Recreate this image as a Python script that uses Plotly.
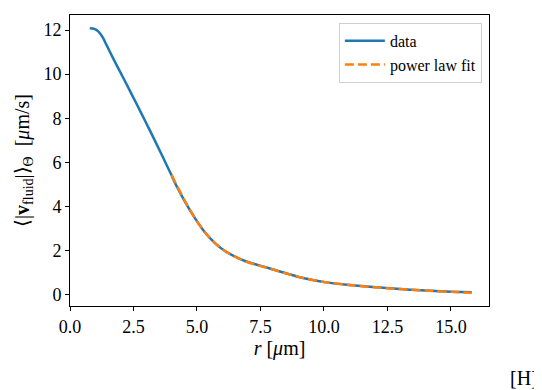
import plotly.graph_objects as go

# data curve
r_data = [0.78, 0.9, 1.0, 1.1, 1.2, 1.3, 1.43, 1.56, 1.75, 1.96, 2.3, 2.62, 2.95, 3.27, 3.55, 3.8,
          4.0, 4.13, 4.52, 4.92, 5.31, 5.7, 6.1, 6.5, 6.89, 7.3, 7.67, 8.07, 8.6, 9.05, 9.6,
          10.1, 10.9, 11.8, 12.6, 13.4, 14.2, 15.0, 15.82]
v_data = [12.08, 12.07, 12.03, 11.95, 11.82, 11.64, 11.34, 11.04, 10.60, 10.14, 9.38, 8.66, 7.90, 7.16, 6.50, 5.90,
          5.42, 5.08, 4.24, 3.48, 2.84, 2.36, 1.99, 1.74, 1.54, 1.39, 1.27, 1.13, 0.95, 0.80, 0.67,
          0.57, 0.46, 0.37, 0.30, 0.24, 0.19, 0.15, 0.12]

# power law fit curve
r_fit = [4.0, 4.3, 4.6, 5.0, 5.4, 5.8, 6.2, 6.6, 7.0, 7.5, 8.0, 8.5, 9.0, 9.5, 10.0,
         11.0, 12.0, 13.0, 14.0, 15.0, 15.82]
v_fit = [5.43, 4.75, 4.10, 3.33, 2.72, 2.25, 1.92, 1.68, 1.48, 1.31, 1.15, 0.98, 0.82, 0.69, 0.59,
         0.45, 0.35, 0.27, 0.20, 0.14, 0.10]

x_ticks = [0.0, 2.5, 5.0, 7.5, 10.0, 12.5, 15.0]
y_ticks = [0, 2, 4, 6, 8, 10, 12]

FONT = "Liberation Serif"

fig = go.Figure()
fig.add_trace(go.Scatter(x=r_data, y=v_data, mode="lines", name="data",
                         line=dict(color="#1f77b4", width=2.5, shape="spline", smoothing=0.5)))
fig.add_trace(go.Scatter(x=r_fit, y=v_fit, mode="lines", name="power law fit",
                         line=dict(color="#ff7f0e", width=2.5, dash="9px,4px", shape="spline", smoothing=0.5)))

axis_common = dict(showline=True, linecolor="black", linewidth=1, mirror=True,
                   ticks="outside", ticklen=4, tickwidth=1, tickcolor="black",
                   showgrid=False, zeroline=False, automargin=False,
                   tickfont=dict(family=FONT, size=18, color="black"))

fig.update_xaxes(range=[0, 16.5], tickvals=x_ticks, ticktext=[f"{t:.1f}" for t in x_ticks],
                 title=dict(text="<i>r</i> [<i>μ</i>m]", font=dict(family=FONT, size=20, color="black"), standoff=2),
                 **axis_common)
fig.update_yaxes(range=[-0.5, 12.68], tickvals=y_ticks, ticktext=[str(t) for t in y_ticks],
                 title=dict(text="⟨|<b>v</b><sub>fluid</sub>|⟩<sub>Θ</sub>  [<i>μ</i>m/s]",
                            font=dict(family=FONT, size=20, color="black"), standoff=8),
                 **axis_common)

# the page body has an 8px margin, so the figure is made 8px smaller and its top/left margins reduced
fig.update_layout(
    width=534, height=382,
    margin=dict(l=62, r=53, t=7, b=84, autoexpand=False),
    paper_bgcolor="white", plot_bgcolor="white",
    font=dict(family=FONT, color="black"),
    legend=dict(x=0.983, y=0.973, xanchor="right", yanchor="top",
                bgcolor="white", bordercolor="#d0d0d0", borderwidth=1,
                font=dict(family=FONT, size=16, color="black"),
                itemwidth=40, tracegroupgap=0),
    showlegend=True,
    annotations=[dict(text="[H]", xref="paper", yref="paper", x=1.0, y=0.0,
                      xanchor="right", yanchor="middle", showarrow=False,
                      xshift=51, yshift=-72,
                      font=dict(family=FONT, size=20, color="black"))],
)

fig.write_html("out.html")
